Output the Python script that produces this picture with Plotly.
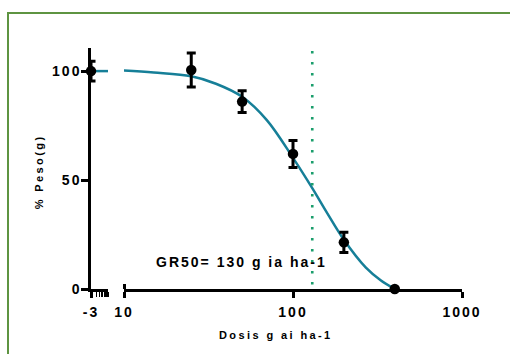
import plotly.graph_objects as go

# ---------------- data ----------------
ctrl_dose = [0.001]            # untreated control, shown at the "-3" (log10) break segment
ctrl_pct = [100.0]
ctrl_err = [4.5]

doses = [25, 50, 100, 200, 400]
pct = [100.5, 86.0, 62.0, 21.4, 0.0]
err = [7.8, 5.0, 6.2, 4.6, 0.0]

# fitted dose-response curve
curve_dose = [9.6, 15, 25, 35, 50, 70, 100, 130, 160, 200, 270, 330, 400]
curve_pct = [100.3, 99.3, 97.6, 94.2, 88.2, 77.5, 60.2, 46.3, 34.6, 22.6, 9.8, 4.0, 0.0]
left_curve_dose = [0.001, 0.01]
left_curve_pct = [100.0, 100.0]

gr50 = 130
gr50_label = "GR50= 130 g ia ha-1"
x_title = "Dosis g ai ha-1"
y_title = "% Peso(g)"
y_ticks = [0, 50, 100]
main_ticks = [10, 100, 1000]
main_ticktext = ["10", "100", "1000"]
left_ticks = [0.001]
left_ticktext = ["-3"]
left_minor = [0.002, 0.003, 0.004, 0.005, 0.006, 0.007, 0.008, 0.009, 0.01]

# ---------------- layout geometry (pixels) ----------------
W, H = 510, 354
L, R, T, B = 91, 48, 48, 65
PW = W - L - R
PH = H - T - B


def px(xp):
    return (xp - L) / PW


def py(yp):
    return (H - B - yp) / PH


FONT = "Liberation Sans, Arial, sans-serif"
CURVE = "#167f98"
DOTS = "#1a9e6b"
BORDER = "#5e9441"

fig = go.Figure()

# left (break) segment curve
fig.add_trace(go.Scatter(x=left_curve_dose, y=left_curve_pct, mode="lines",
                         line=dict(color=CURVE, width=2.5), xaxis="x", yaxis="y",
                         hoverinfo="skip"))
# main curve
fig.add_trace(go.Scatter(x=curve_dose, y=curve_pct, mode="lines",
                         line=dict(color=CURVE, width=2.5, shape="spline", smoothing=1.0),
                         xaxis="x2", yaxis="y", hoverinfo="skip"))
# GR50 dotted line
fig.add_trace(go.Scatter(x=[gr50, gr50], y=[-3, 110.6], mode="lines",
                         line=dict(color=DOTS, width=2.6, dash="2.6px,8.4px"),
                         xaxis="x2", yaxis="y", hoverinfo="skip"))
# control point
fig.add_trace(go.Scatter(x=ctrl_dose, y=ctrl_pct, mode="markers",
                         marker=dict(color="black", size=10.5),
                         error_y=dict(type="data", array=ctrl_err, color="black",
                                      thickness=3, width=4.5),
                         xaxis="x", yaxis="y", cliponaxis=False))
# treated points
fig.add_trace(go.Scatter(x=doses, y=pct, mode="markers",
                         marker=dict(color="black", size=10.5),
                         error_y=dict(type="data", array=err, color="black",
                                      thickness=3, width=4.5),
                         xaxis="x2", yaxis="y", cliponaxis=False))

tickfont = dict(family=FONT, size=14, color="black", weight="bold")

fig.update_layout(
    width=W, height=H,
    margin=dict(l=L, r=R, t=T, b=B, pad=0),
    paper_bgcolor="white", plot_bgcolor="white",
    showlegend=False,
    font=dict(family=FONT, color="black"),
    xaxis=dict(type="log", range=[-3, -2], domain=[0, px(108)], anchor="y",
               showline=True, linecolor="black", linewidth=2.5,
               showgrid=False, zeroline=False,
               tickmode="array", tickvals=left_ticks, ticktext=left_ticktext,
               ticks="outside", ticklen=6, tickwidth=2.5, tickcolor="black",
               tickfont=tickfont, ticklabelstandoff=2,
               minor=dict(tickmode="array", tickvals=left_minor, ticks="outside",
                          ticklen=5, tickwidth=1, tickcolor="black", showgrid=False)),
    xaxis2=dict(type="log", range=[1, 3], domain=[px(124), 1], anchor="y",
                showline=True, linecolor="black", linewidth=2.5,
                showgrid=False, zeroline=False,
                tickmode="array", tickvals=main_ticks, ticktext=main_ticktext,
                ticks="outside", ticklen=6, tickwidth=2.5, tickcolor="black",
                tickfont=tickfont, ticklabelstandoff=2,
                minor=dict(tickmode="array", tickvals=[10], ticks="inside",
                           ticklen=5, tickwidth=2.5, tickcolor="black", showgrid=False)),
    yaxis=dict(range=[0, 110.6], domain=[0, 1], anchor="x",
               showline=True, linecolor="black", linewidth=2.5,
               showgrid=False, zeroline=False,
               tickmode="array", tickvals=y_ticks,
               ticks="outside", ticklen=7, tickwidth=2.5, tickcolor="black",
               tickfont=tickfont, ticklabelstandoff=-3),
    shapes=[dict(type="rect", xref="paper", yref="paper",
                 x0=px(8), x1=px(530), y0=py(380), y1=py(13),
                 line=dict(color=BORDER, width=2), fillcolor="rgba(0,0,0,0)", layer="below")],
    annotations=[
        dict(text=gr50_label, xref="paper", yref="paper", x=px(241), y=py(262),
             xanchor="center", yanchor="middle", showarrow=False,
             font=dict(family=FONT, size=14, color="black", weight="bold")),
        dict(text=x_title, xref="paper", yref="paper", x=px(276), y=py(335),
             xanchor="center", yanchor="middle", showarrow=False,
             font=dict(family=FONT, size=11, color="black", weight="bold")),
        dict(text=y_title, xref="paper", yref="paper", x=px(38), y=py(171.5),
             xanchor="center", yanchor="middle", showarrow=False, textangle=-90,
             font=dict(family=FONT, size=11, color="black", weight="bold")),
    ],
)

post = """
document.querySelectorAll('.main-svg text').forEach(function(t){
  var fs = parseFloat(t.style.fontSize || '12');
  t.style.letterSpacing = (fs >= 13 ? '2px' : '2.4px');
});
"""

fig.write_html("out.html", post_script=post)
